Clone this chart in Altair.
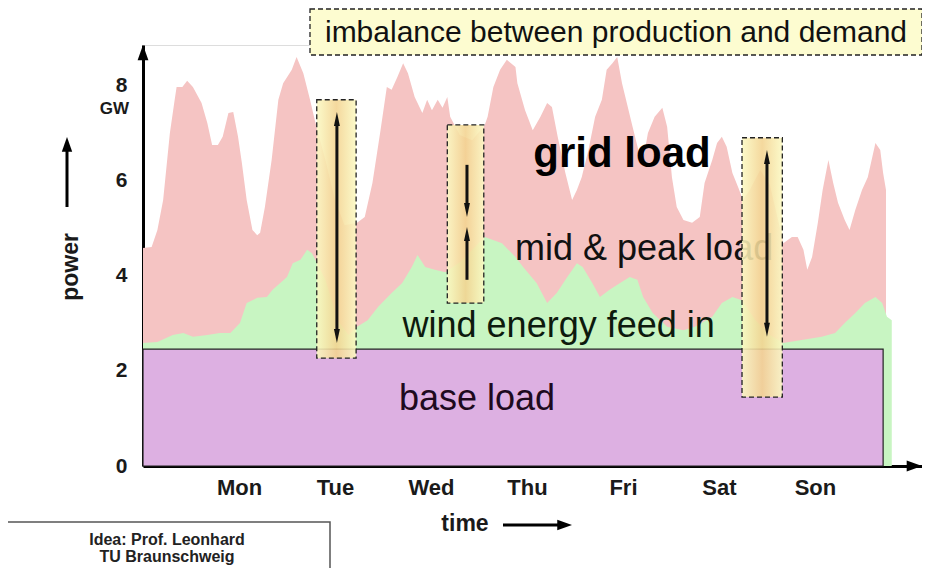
import altair as alt
import pandas as pd

FONT = "Liberation Sans"

# ---- data (x in days from the y axis, y in GW) ----
load_x = [0.00, 0.09, 0.15, 0.21, 0.28, 0.33, 0.35, 0.41, 0.46, 0.52,
          0.61, 0.67, 0.72, 0.78, 0.83, 0.89, 0.94, 0.99, 1.03, 1.08,
          1.14, 1.19, 1.22, 1.27, 1.34, 1.41, 1.46, 1.55, 1.60, 1.67,
          1.74, 1.79, 1.90, 2.00, 2.10, 2.23, 2.31, 2.39, 2.47, 2.54,
          2.59, 2.65, 2.71, 2.76, 2.83, 2.91, 2.96, 3.01, 3.07, 3.12,
          3.17, 3.20, 3.30, 3.43, 3.56, 3.59, 3.65, 3.72, 3.79, 3.88,
          3.90, 3.98, 4.06, 4.14, 4.21, 4.26, 4.32, 4.40, 4.47, 4.52,
          4.57, 4.64, 4.71, 4.78, 4.83, 4.89, 4.94, 4.99, 5.04, 5.10,
          5.16, 5.21, 5.26, 5.33, 5.41, 5.46, 5.51, 5.56, 5.63, 5.72,
          5.80, 5.85, 5.93, 5.98, 6.03, 6.08, 6.14, 6.20, 6.25, 6.32,
          6.43, 6.53, 6.64, 6.67, 6.76, 6.82, 6.88, 6.92, 6.97, 7.03,
          7.08, 7.14, 7.19, 7.24, 7.31, 7.36, 7.42, 7.49, 7.55, 7.63,
          7.68, 7.71, 7.74]
load_y = [4.59, 4.61, 4.97, 5.60, 7.01, 7.71, 7.98, 7.98, 8.11, 7.98,
          7.64, 7.22, 6.76, 6.76, 6.93, 7.43, 7.45, 6.93, 6.38, 5.60,
          4.97, 4.86, 4.91, 5.45, 6.44, 7.71, 8.06, 8.34, 8.61, 8.27,
          7.71, 7.28, 6.44, 5.60, 5.07, 5.12, 5.24, 5.96, 7.01, 7.98,
          7.92, 8.19, 8.48, 8.27, 7.77, 7.43, 7.71, 7.49, 7.71, 7.54,
          7.77, 7.35, 6.97, 6.86, 7.18, 7.35, 7.98, 8.34, 8.55, 8.40,
          8.06, 7.49, 7.07, 7.35, 7.64, 7.56, 6.93, 6.17, 5.60, 5.81,
          6.08, 6.65, 7.35, 7.71, 8.34, 8.48, 8.61, 8.06, 7.64, 7.14,
          6.65, 6.44, 7.01, 7.35, 7.54, 7.14, 6.08, 5.45, 5.18, 5.12,
          5.24, 5.96, 6.44, 6.80, 6.93, 6.72, 6.17, 5.87, 5.60, 5.81,
          6.23, 5.92, 4.97, 4.69, 4.82, 4.82, 4.55, 4.13, 4.40, 5.12,
          5.81, 6.44, 5.96, 5.54, 5.18, 4.97, 5.39, 5.81, 6.08, 6.80,
          6.65, 6.17, 5.81]

wind_x = [0.00, 0.15, 0.31, 0.42, 0.52, 0.67, 0.80, 0.91, 1.01, 1.08,
          1.19, 1.29, 1.35, 1.43, 1.50, 1.56, 1.64, 1.71, 1.76, 1.90,
          2.03, 2.14, 2.23, 2.34, 2.45, 2.59, 2.70, 2.80, 2.86, 2.94,
          3.04, 3.15, 3.30, 3.43, 3.56, 3.74, 3.88, 3.96, 4.10, 4.21,
          4.31, 4.42, 4.52, 4.58, 4.68, 4.76, 4.86, 4.97, 5.07, 5.15,
          5.21, 5.31, 5.46, 5.63, 5.75, 5.93, 6.03, 6.14, 6.24, 6.38,
          6.53, 6.67, 6.86, 7.07, 7.21, 7.31, 7.42, 7.52, 7.63, 7.70,
          7.75, 7.80]
wind_y = [2.59, 2.61, 2.76, 2.80, 2.72, 2.76, 2.80, 2.80, 3.01, 3.43,
          3.54, 3.56, 3.71, 3.85, 3.98, 4.27, 4.34, 4.55, 4.48, 3.92,
          3.07, 2.76, 2.93, 3.07, 3.35, 3.64, 3.85, 4.19, 4.44, 4.19,
          4.13, 4.08, 4.29, 4.55, 4.82, 4.69, 4.40, 4.19, 3.85, 3.43,
          3.64, 3.98, 4.27, 4.19, 3.85, 3.56, 3.71, 3.85, 3.98, 3.92,
          3.56, 3.22, 2.93, 2.86, 2.93, 3.14, 3.43, 3.56, 3.49, 3.07,
          2.76, 2.59, 2.65, 2.72, 2.80, 3.01, 3.22, 3.43, 3.56, 3.43,
          3.14, 3.07]

base_start = [0.0]
base_end = [7.71]
base_level = [2.46]

day_ticks = [1, 2, 3, 4, 5, 6, 7]
day_labels = ["Mon", "Tue", "Wed", "Thu", "Fri", "Sat", "Son"]
power_ticks = [0, 2, 4, 6, 8]

# highlighted (imbalance) boxes
box_x1 = [1.81, 3.17, 6.24]
box_x2 = [2.22, 3.55, 6.66]
box_y1 = [2.27, 3.43, 1.45]
box_y2 = [7.71, 7.18, 6.91]

# arrows inside the boxes
shaft_x = [2.02, 3.375, 3.375, 6.50]
shaft_y1 = [2.80, 5.50, 3.92, 2.95]
shaft_y2 = [7.22, 6.34, 4.80, 6.42]
head_up_x = [2.02, 3.375, 6.50]
head_up_y = [7.45, 5.03, 6.65]
head_down_x = [2.02, 3.375, 6.50]
head_down_y = [2.59, 5.24, 2.72]

XMAX = 8.115
YMAX = 8.863
W, H = 779, 421

PINK = "#f5c4c3"
GREEN = "#c8f5c2"
PURPLE = "#ddb0e2"

X = alt.Scale(domain=[0, XMAX], nice=False, zero=False)
Y = alt.Scale(domain=[0, YMAX], nice=False, zero=False)

label_expr = "[" + ",".join("'%s'" % d for d in day_labels) + "][datum.value - 1]"

x_axis = alt.Axis(values=day_ticks, labelExpr=label_expr, title=None, grid=False,
                  ticks=False, domain=True, domainColor="black", domainWidth=3,
                  labelFont=FONT, labelFontSize=22, labelFontWeight="bold",
                  labelColor="#1a1a1a", labelPadding=11, labelFlush=False)
y_axis = alt.Axis(values=power_ticks, title=None, grid=False, ticks=False,
                  domain=True, domainColor="black", domainWidth=3,
                  labelFont=FONT, labelFontSize=21, labelFontWeight="bold",
                  labelColor="#1a1a1a", labelPadding=16, labelFlush=False)


def ex(field="x"):
    return alt.X(field + ":Q", scale=X, axis=x_axis)


def ey(field="y"):
    return alt.Y(field + ":Q", scale=Y, axis=y_axis)


load_df = pd.DataFrame({"x": load_x, "y": load_y})
wind_df = pd.DataFrame({"x": wind_x, "y": wind_y})

pink = alt.Chart(load_df).mark_area(color=PINK, opacity=1).encode(x=ex(), y=ey())
green = alt.Chart(wind_df).mark_area(color=GREEN, opacity=1).encode(x=ex(), y=ey())

base_df = pd.DataFrame({"x": base_start, "x2": base_end, "y2": base_level,
                        "y": [0.0]})
base = alt.Chart(base_df).mark_rect(fill=PURPLE, stroke="#222", strokeWidth=1.2).encode(
    x=ex(), x2="x2:Q", y=ey(), y2="y2:Q")


def txt(label, x, y, size, weight="normal", color="#111"):
    df = pd.DataFrame({"x": [x], "y": [y], "t": [label]})
    return alt.Chart(df).mark_text(font=FONT, fontSize=size, fontWeight=weight,
                                   color=color, baseline="alphabetic",
                                   align="center").encode(x=ex(), y=ey(), text="t:N")


def ptxt(label, px, py, size, weight="normal", color="#111", angle=0, align="center",
         baseline="middle"):
    df = pd.DataFrame({"t": [label]})
    return alt.Chart(df).mark_text(font=FONT, fontSize=size, fontWeight=weight,
                                   color=color, angle=angle, align=align,
                                   baseline=baseline).encode(
        x=alt.value(px), y=alt.value(py), text="t:N")


t_grid = txt("grid load", 4.99, 6.29, 42, "bold", "#000")
t_mid = txt("mid & peak load", 5.22, 4.34, 36, "normal", "#111")
t_wind = txt("wind energy feed in", 4.33, 2.72, 36, "normal", "#0d1a0d")
t_base = txt("base load", 3.48, 1.18, 36, "normal", "#1e0a1e")

boxes_df = pd.DataFrame({"x": box_x1, "x2": box_x2, "y": box_y1, "y2": box_y2})
grad = alt.Gradient(
    gradient="linear", x1=0, y1=0, x2=1, y2=0,
    stops=[alt.GradientStop(offset=0, color="#fbf9c2"),
           alt.GradientStop(offset=0.5, color="#f3d390"),
           alt.GradientStop(offset=1, color="#fbf9c2")])
boxes = alt.Chart(boxes_df).mark_rect(
    fill=grad, fillOpacity=0.88, stroke="#222", strokeWidth=1.3,
    strokeDash=[5, 3]).encode(x=ex(), x2="x2:Q", y=ey(), y2="y2:Q")

shaft_df = pd.DataFrame({"x": shaft_x, "y": shaft_y1, "y2": shaft_y2})
shafts = alt.Chart(shaft_df).mark_rule(color="#111", strokeWidth=3).encode(
    x=ex(), y=ey(), y2="y2:Q")

UP_NARROW = "M0,0L0.34,1.6L-0.34,1.6Z"
DOWN_NARROW = "M0,0L0.34,-1.6L-0.34,-1.6Z"
UP_WIDE = "M0,0L0.6,1.7L-0.6,1.7Z"
RIGHT_WIDE = "M0,0L-1.7,-0.6L-1.7,0.6Z"

heads_up = alt.Chart(pd.DataFrame({"x": head_up_x, "y": head_up_y})).mark_point(
    shape=UP_NARROW, filled=True, size=306, color="#111", opacity=1).encode(x=ex(), y=ey())
heads_down = alt.Chart(pd.DataFrame({"x": head_down_x, "y": head_down_y})).mark_point(
    shape=DOWN_NARROW, filled=True, size=306, color="#111", opacity=1).encode(x=ex(), y=ey())

# axis arrow heads
y_head = alt.Chart(pd.DataFrame({"x": [0.0], "y": [YMAX]})).mark_point(
    shape=UP_WIDE, filled=True, size=324, color="black", opacity=1).encode(x=ex(), y=ey())
x_head = alt.Chart(pd.DataFrame({"x": [XMAX], "y": [0.0]})).mark_point(
    shape=RIGHT_WIDE, filled=True, size=324, color="black", opacity=1).encode(x=ex(), y=ey())

# labels and decorations outside the plot area (pixel positions)
t_gw = ptxt("GW", -14, 64, 17, "bold", "#1a1a1a", align="right")
t_power = ptxt("power", -72, 222, 23, "bold", "#1a1a1a", angle=270)
power_shaft = alt.Chart(pd.DataFrame({"a": [0]})).mark_rule(color="black", strokeWidth=3).encode(
    x=alt.value(-76), y=alt.value(162), y2=alt.value(105))
power_head = alt.Chart(pd.DataFrame({"a": [0]})).mark_point(
    shape=UP_WIDE, filled=True, size=300, color="black", opacity=1).encode(
    x=alt.value(-76), y=alt.value(92))

t_time = ptxt("time", 322, 479, 23, "bold", "#1a1a1a")
time_shaft = alt.Chart(pd.DataFrame({"a": [0]})).mark_rule(color="black", strokeWidth=3).encode(
    x=alt.value(360), x2=alt.value(415), y=alt.value(480))
time_head = alt.Chart(pd.DataFrame({"a": [0]})).mark_point(
    shape=RIGHT_WIDE, filled=True, size=300, color="black", opacity=1).encode(
    x=alt.value(429), y=alt.value(480))

title_box = alt.Chart(pd.DataFrame({"a": [0]})).mark_rect(
    fill="#fdfcd0", stroke="#222", strokeWidth=1.3, strokeDash=[5, 3]).encode(
    x=alt.value(167), x2=alt.value(779), y=alt.value(-36), y2=alt.value(10))
t_title = ptxt("imbalance between production and demand", 473, -3, 30, "normal", "#111",
               baseline="alphabetic")

credit_box = alt.Chart(pd.DataFrame({"a": [0]})).mark_rect(
    fill="white", stroke="#555", strokeWidth=1.5).encode(
    x=alt.value(-136), x2=alt.value(187), y=alt.value(477), y2=alt.value(540))
t_credit1 = ptxt("Idea: Prof. Leonhard", 24, 495, 16, "bold", "#222")
t_credit2 = ptxt("TU Braunschweig", 24, 512, 16, "bold", "#222")

chart = alt.layer(
    pink, green, base, t_grid, t_mid, t_wind, t_base,
    boxes, shafts, heads_up, heads_down, y_head, x_head,
    t_gw, t_power, power_shaft, power_head, t_time, time_shaft, time_head,
    title_box, t_title, credit_box, t_credit1, t_credit2,
).properties(
    width=W, height=H,
    autosize=alt.AutoSizeParams(type="none"),
    padding={"left": 135, "top": 37, "right": 0, "bottom": 102},
).configure_view(stroke=None).configure(background="white")

chart.save("out.html", embed_options={"renderer": "svg", "actions": False})
